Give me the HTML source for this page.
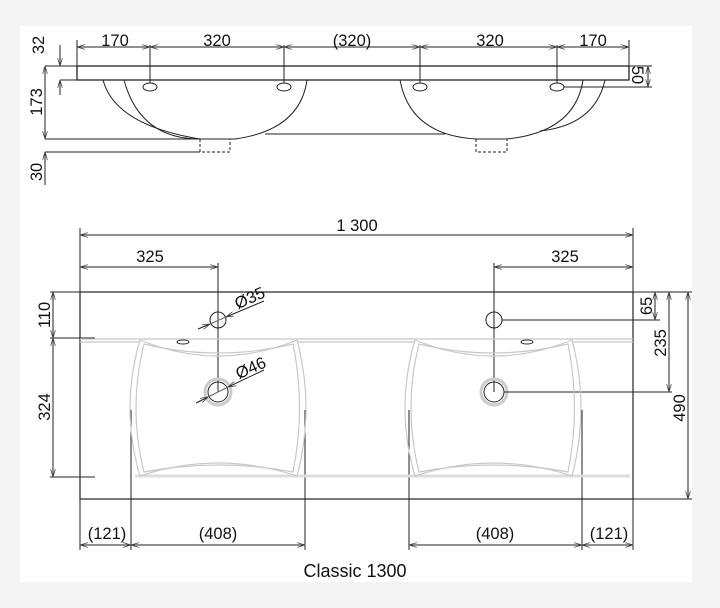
<!DOCTYPE html>
<html><head><meta charset="utf-8"><style>
html,body{margin:0;padding:0;background:#f4f4f4}
svg{display:block}
text{font-family:"Liberation Sans",Arial,sans-serif;font-size:16.5px;fill:#111}
</style></head><body>
<svg width="720" height="608" viewBox="0 0 720 608" xmlns="http://www.w3.org/2000/svg">
<defs>
<marker id="a" viewBox="0 0 10 6" refX="10" refY="3" markerWidth="8" markerHeight="5" orient="auto-start-reverse"><path d="M0,0 L10,3 L0,6" fill="none" stroke="#444" stroke-width="1"/></marker>
</defs>
<rect x="20" y="26" width="672" height="556" fill="#fff"/>
<g stroke="#222" stroke-width="1" fill="none">
<rect x="77" y="66" width="552" height="14" stroke-width="1.3"/>
<line x1="77" y1="40" x2="77" y2="66"/><line x1="629" y1="40" x2="629" y2="66"/>
<line x1="77" y1="47" x2="150" y2="47" marker-start="url(#a)" marker-end="url(#a)"/>
<line x1="150" y1="47" x2="284" y2="47" marker-start="url(#a)" marker-end="url(#a)"/>
<line x1="284" y1="47" x2="420" y2="47" marker-start="url(#a)" marker-end="url(#a)"/>
<line x1="420" y1="47" x2="557" y2="47" marker-start="url(#a)" marker-end="url(#a)"/>
<line x1="557" y1="47" x2="629" y2="47" marker-start="url(#a)" marker-end="url(#a)"/>
<line x1="150" y1="45" x2="150" y2="83"/><line x1="284" y1="45" x2="284" y2="83"/>
<line x1="420" y1="45" x2="420" y2="83"/><line x1="557" y1="45" x2="557" y2="83"/>
<ellipse cx="150" cy="87" rx="7" ry="4"/><ellipse cx="284" cy="87" rx="7" ry="4"/>
<ellipse cx="420" cy="87" rx="7" ry="4"/><ellipse cx="557" cy="87" rx="7" ry="4"/>
<path d="M103,80 Q115,125 200,139"/>
<path d="M124,80 Q140,139 200,139 L235,139 Q300,130 307,80"/>
<path d="M265,134 L445,134"/>
<line x1="45" y1="139" x2="200" y2="139"/>
<path d="M200,139 V152 H230 V139" stroke-dasharray="3,2"/>
<line x1="45" y1="152" x2="200" y2="152"/>
<path d="M400,80 Q410,135 476,139 L507,139 Q575,132 583,80"/>
<path d="M605,80 Q595,125 540,131"/>
<path d="M476,139 V152 H507 V139" stroke-dasharray="3,2"/>
<line x1="45" y1="66" x2="77" y2="66"/><line x1="60" y1="80" x2="77" y2="80"/>
<line x1="60" y1="45" x2="60" y2="66" marker-end="url(#a)"/>
<line x1="60" y1="80" x2="60" y2="95" marker-start="url(#a)"/>
<line x1="45" y1="66" x2="45" y2="139" marker-start="url(#a)" marker-end="url(#a)"/>
<line x1="45" y1="152" x2="45" y2="185" marker-start="url(#a)"/>
<line x1="629" y1="66" x2="652" y2="66"/><line x1="564" y1="87" x2="652" y2="87"/>
<line x1="648" y1="66" x2="648" y2="87" marker-start="url(#a)" marker-end="url(#a)"/>

<rect x="80" y="292" width="553" height="207" stroke-width="1.2"/>
<line x1="80" y1="228" x2="80" y2="292"/><line x1="633" y1="228" x2="633" y2="292"/>
<line x1="80" y1="235" x2="633" y2="235" marker-start="url(#a)" marker-end="url(#a)"/>
<line x1="80" y1="267" x2="218" y2="267" marker-start="url(#a)" marker-end="url(#a)"/>
<line x1="494" y1="267" x2="633" y2="267" marker-start="url(#a)" marker-end="url(#a)"/>
<line x1="218" y1="263" x2="218" y2="392"/><line x1="494" y1="263" x2="494" y2="392"/>
<circle cx="218" cy="320" r="8"/><circle cx="494" cy="320" r="8"/>
<circle cx="218" cy="392" r="13" stroke="#ccc" stroke-width="3"/><circle cx="218" cy="392" r="10"/>
<circle cx="494" cy="392" r="13" stroke="#ccc" stroke-width="3"/><circle cx="494" cy="392" r="10"/>
<line x1="198" y1="329" x2="210" y2="324" marker-end="url(#a)"/>
<line x1="210" y1="324" x2="226" y2="317" stroke="#666"/>
<line x1="226" y1="317" x2="264" y2="301" marker-start="url(#a)"/>
<line x1="196" y1="403" x2="208" y2="397" marker-end="url(#a)"/>
<line x1="208" y1="397" x2="228" y2="387" stroke="#666"/>
<line x1="228" y1="387" x2="264" y2="370" marker-start="url(#a)"/>
<line x1="50" y1="292" x2="80" y2="292"/>
<line x1="50" y1="338" x2="95" y2="338"/>
<line x1="50" y1="477" x2="95" y2="477"/>
<line x1="53" y1="292" x2="53" y2="338" marker-start="url(#a)" marker-end="url(#a)"/>
<line x1="53" y1="338" x2="53" y2="477" marker-start="url(#a)" marker-end="url(#a)"/>
<line x1="633" y1="292" x2="692" y2="292"/><line x1="633" y1="499" x2="692" y2="499"/>
<line x1="502" y1="320" x2="660" y2="320"/><line x1="504" y1="392" x2="672" y2="392"/>
<line x1="655" y1="292" x2="655" y2="320" marker-start="url(#a)" marker-end="url(#a)"/>
<line x1="669" y1="292" x2="669" y2="392" marker-start="url(#a)" marker-end="url(#a)"/>
<line x1="688" y1="292" x2="688" y2="499" marker-start="url(#a)" marker-end="url(#a)"/>
<line x1="80" y1="499" x2="80" y2="550"/><line x1="633" y1="499" x2="633" y2="550"/>
<line x1="131" y1="410" x2="131" y2="550"/><line x1="305" y1="410" x2="305" y2="550"/>
<line x1="409" y1="410" x2="409" y2="550"/><line x1="582" y1="410" x2="582" y2="550"/>
<line x1="80" y1="545" x2="131" y2="545" marker-start="url(#a)" marker-end="url(#a)"/>
<line x1="131" y1="545" x2="305" y2="545" marker-start="url(#a)" marker-end="url(#a)"/>
<line x1="409" y1="545" x2="582" y2="545" marker-start="url(#a)" marker-end="url(#a)"/>
<line x1="582" y1="545" x2="633" y2="545" marker-start="url(#a)" marker-end="url(#a)"/>
</g>
<g stroke="#c8c8c8" stroke-width="1.2" fill="none">
<line x1="80" y1="339" x2="633" y2="339"/>
<line x1="80" y1="342" x2="140" y2="342"/><line x1="297" y1="342" x2="415" y2="342"/><line x1="572" y1="342" x2="633" y2="342"/>
<line x1="135" y1="476" x2="630" y2="476" stroke="#ddd" stroke-width="3"/>
<path d="M140,340 Q218,372 297,340 Q315,408 297,476 Q218,450 140,476 Q120,408 140,340Z"/>
<path d="M144,344 Q218,362 293,344 Q306,408 293,472 Q218,458 144,472 Q128,408 144,344Z"/>
<path d="M415,340 Q493,372 572,340 Q590,408 572,476 Q493,450 415,476 Q395,408 415,340Z"/>
<path d="M419,344 Q493,362 568,344 Q581,408 568,472 Q493,458 419,472 Q403,408 419,344Z"/>
</g>
<ellipse cx="183" cy="342" rx="6" ry="2" fill="none" stroke="#333"/>
<ellipse cx="527" cy="342" rx="6" ry="2" fill="none" stroke="#333"/>
<text x="115" y="46" text-anchor="middle">170</text>
<text x="217" y="46" text-anchor="middle">320</text>
<text x="352" y="46" text-anchor="middle">(320)</text>
<text x="490" y="46" text-anchor="middle">320</text>
<text x="593" y="46" text-anchor="middle">170</text>
<text transform="translate(44,45) rotate(-90)" text-anchor="middle">32</text>
<text transform="translate(42,102) rotate(-90)" text-anchor="middle">173</text>
<text transform="translate(42,172) rotate(-90)" text-anchor="middle">30</text>
<text transform="translate(632,75) rotate(90)" text-anchor="middle">50</text>
<text x="357" y="231" text-anchor="middle">1 300</text>
<text x="150" y="262" text-anchor="middle">325</text>
<text x="565" y="262" text-anchor="middle">325</text>
<text transform="translate(252,303) rotate(-24)" text-anchor="middle">Ø35</text>
<text transform="translate(253,373) rotate(-24)" text-anchor="middle">Ø46</text>
<text transform="translate(50,315) rotate(-90)" text-anchor="middle">110</text>
<text transform="translate(50,407) rotate(-90)" text-anchor="middle">324</text>
<text transform="translate(652,306) rotate(-90)" text-anchor="middle">65</text>
<text transform="translate(666,343) rotate(-90)" text-anchor="middle">235</text>
<text transform="translate(685,408) rotate(-90)" text-anchor="middle">490</text>
<text x="107" y="539" text-anchor="middle">(121)</text>
<text x="218" y="539" text-anchor="middle">(408)</text>
<text x="495" y="539" text-anchor="middle">(408)</text>
<text x="609" y="539" text-anchor="middle">(121)</text>
<text x="355" y="577" text-anchor="middle" style="font-size:18px">Classic 1300</text>
</svg>
</body></html>
